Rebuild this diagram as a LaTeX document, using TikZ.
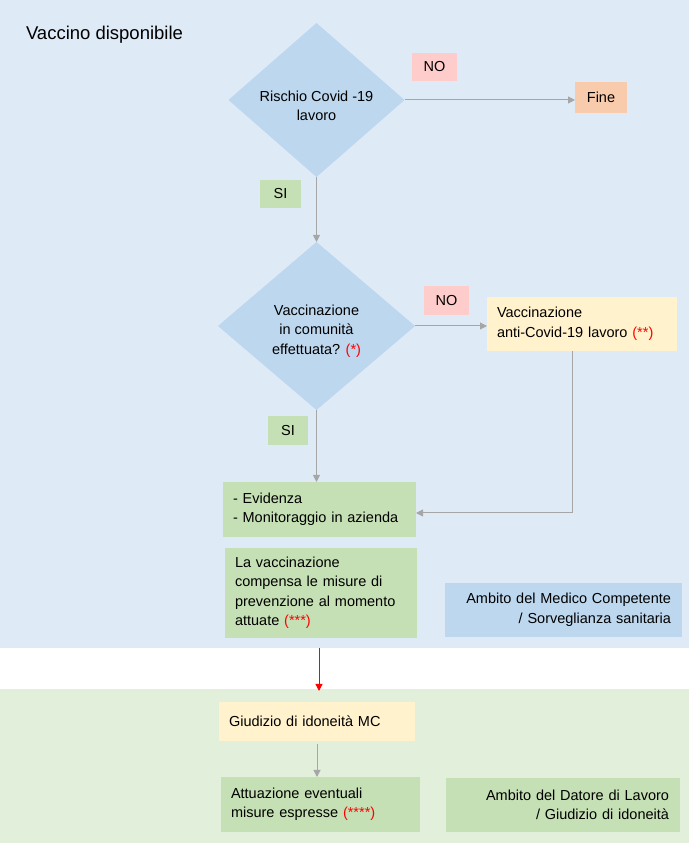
\documentclass[tikz,border=0pt]{standalone}
\usepackage{fontspec}
\setmainfont{Liberation Sans}
\usetikzlibrary{shapes.geometric,arrows.meta}
\newcommand{\boxfont}{\fontsize{14.5}{19.5}\selectfont}
\newcommand{\titlefont}{\fontsize{18.5}{21}\selectfont}
\newcommand{\redstar}[1]{\textcolor{starRed}{#1}}

\begin{document}
\begin{tikzpicture}[x=1pt,y=1pt,
  lbl/.style={inner sep=0pt,outer sep=0pt,font=\boxfont,align=center},
  rhombus/.style={lbl,shape=diamond,fill=diaColor},
  leftbox/.style={lbl,align=left},
  rightbox/.style={lbl,align=right},
  arr/.style={draw=arrColor,line width=1pt,-{Triangle[length=7pt,width=7pt]}}]
\definecolor{bgBlue}{RGB}{222,235,247}
\definecolor{bgGreen}{RGB}{226,239,218}
\definecolor{diaColor}{RGB}{189,215,238}
\definecolor{noColor}{RGB}{255,204,204}
\definecolor{fineColor}{RGB}{248,203,173}
\definecolor{siColor}{RGB}{197,224,180}
\definecolor{yelColor}{RGB}{255,242,204}
\definecolor{arrColor}{RGB}{166,166,166}
\definecolor{starRed}{RGB}{255,0,0}

\path[use as bounding box,fill=white] (0,0) rectangle (689,843);
\fill[bgBlue] (0,195) rectangle (689,843);
\fill[bgGreen] (0,0) rectangle (689,154);

\node[lbl,anchor=base west,font=\titlefont] (title) at (26,803) {Vaccino disponibile};

% prima domanda
\node[rhombus,minimum width=176,minimum height=154,
  label={[lbl,yshift=-6pt]center:{Rischio Covid -19\\lavoro}}] (d1) at (316.5,743) {};
\node[lbl,fill=noColor,minimum width=45,minimum height=28] (no1) at (434.5,776) {NO};
\node[lbl,fill=fineColor,minimum width=52,minimum height=31] (fine) at (601,745.5) {Fine};
\node[lbl,fill=siColor,minimum width=41,minimum height=28] (si1) at (280.5,649) {SI};

% seconda domanda
\node[rhombus,minimum width=197,minimum height=168,
  label={[lbl,yshift=-5pt]center:{Vaccinazione\\in comunità\\effettuata? \redstar{(*)}}}] (d2) at (316.5,517) {};
\node[lbl,fill=noColor,minimum width=45,minimum height=29] (no2) at (446.5,542.5) {NO};
\node[leftbox,fill=yelColor,minimum width=190,minimum height=54,text width=170] (vacc) at (582,519) {Vaccinazione\\anti-Covid-19 lavoro \redstar{(**)}};
\node[lbl,fill=siColor,minimum width=40,minimum height=29] (si2) at (288,412.5) {SI};

\node[leftbox,fill=siColor,minimum width=193,minimum height=55,text width=173] (evid) at (319.5,333.5) {- Evidenza\\- Monitoraggio in azienda};
\node[leftbox,fill=siColor,minimum width=192,minimum height=90,text width=172] (comp) at (321,250) {La vaccinazione\\compensa le misure di\\prevenzione al momento\\attuate \redstar{(***)}};
\node[rightbox,fill=diaColor,minimum width=237,minimum height=54,text width=215] (ambMC) at (563.5,233) {Ambito del Medico Competente\\/ Sorveglianza sanitaria};

% datore di lavoro
\node[leftbox,fill=yelColor,minimum width=196,minimum height=39,text width=176] (giud) at (317,121.5) {Giudizio di idoneità MC};
\node[leftbox,fill=siColor,minimum width=199,minimum height=55,text width=179] (attu) at (320.5,38.5) {Attuazione eventuali\\misure espresse \redstar{(****)}};
\node[rightbox,fill=siColor,minimum width=234,minimum height=54,text width=212] (ambDL) at (563,38) {Ambito del Datore di Lavoro\\/ Giudizio di idoneità};

\coordinate (redTop) at (319,195);
\coordinate (redEnd) at (319,152);

\draw[arr] (d1.east) -- (d1.east -| fine.west);
\draw[arr] (d1.south) -- (d2.north);
\draw[arr] (d2.east) -- (d2.east -| vacc.west);
\draw[arr] (d2.south) -- (d2.south |- evid.north);
\draw[arr] ([xshift=-10pt]vacc.south) |- ([yshift=-3.5pt]evid.east);
\draw[arr,draw=starRed] (redTop) -- (redEnd);
\draw[arr,shorten <=3pt] (giud.south) -- (giud.south |- attu.north);
\end{tikzpicture}
\end{document}
